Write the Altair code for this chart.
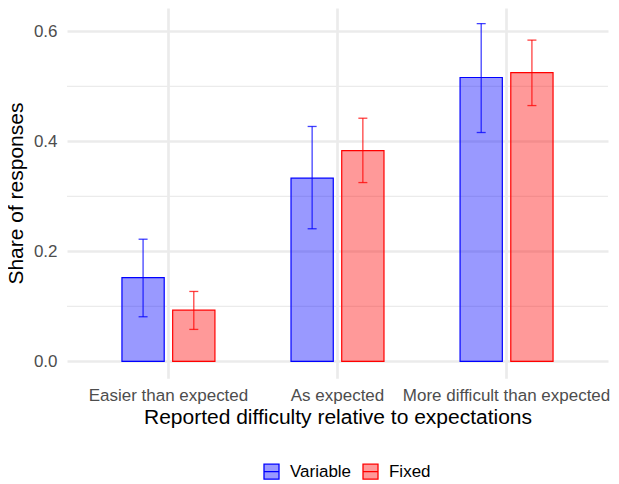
import altair as alt
import pandas as pd

categories = ["Easier than expected", "As expected", "More difficult than expected"]
groups = ["Variable", "Fixed"]

variable_share = [0.152, 0.333, 0.516]
variable_lo = [0.081, 0.241, 0.416]
variable_hi = [0.222, 0.427, 0.614]

fixed_share = [0.093, 0.383, 0.525]
fixed_lo = [0.058, 0.325, 0.465]
fixed_hi = [0.127, 0.442, 0.584]

major_ticks = [0.0, 0.2, 0.4, 0.6]
minor_grid = [0.1, 0.3, 0.5]

rows = []
for i, c in enumerate(categories):
    rows.append(dict(cat=c, grp="Variable", share=variable_share[i], lo=variable_lo[i], hi=variable_hi[i]))
    rows.append(dict(cat=c, grp="Fixed", share=fixed_share[i], lo=fixed_lo[i], hi=fixed_hi[i]))
df = pd.DataFrame(rows)
grid_df = pd.DataFrame({"share": minor_grid})

FONT = "Liberation Sans"
GRID = "#EBEBEB"

x_enc = alt.X(
    "cat:N",
    sort=categories,
    scale=alt.Scale(paddingInner=0, paddingOuter=0.1),
    axis=alt.Axis(
        title="Reported difficulty relative to expectations",
        labelAngle=0, ticks=False, tickSize=0, domain=False, grid=True, bandPosition=0.5,
        gridColor=GRID, gridWidth=2.67, labelLimit=0,
        labelPadding=9, labelFontSize=17, labelColor="#4D4D4D", labelFont=FONT,
        titleFontSize=21, titleColor="black", titleFont=FONT, titleFontWeight="normal",
        titlePadding=3,
    ),
)
xoff_enc = alt.XOffset("grp:N", sort=groups, scale=alt.Scale(paddingInner=1 / 6, paddingOuter=0.75))

y_scale = alt.Scale(domain=[-0.0307, 0.6424], nice=False, zero=False)
y_axis = alt.Axis(
    values=major_ticks, format=".1f", title="Share of responses",
    ticks=False, tickSize=0, domain=False, grid=True, gridColor=GRID, gridWidth=2.67,
    labelPadding=10, labelFontSize=17, labelColor="#4D4D4D", labelFont=FONT,
    titleFontSize=21, titleColor="black", titleFont=FONT, titleFontWeight="normal",
    titlePadding=7,
)

fill_enc = alt.Fill(
    "grp:N", sort=groups,
    scale=alt.Scale(domain=groups, range=["rgba(0,0,255,0.4)", "rgba(255,0,0,0.4)"]),
    legend=alt.Legend(title=None),
)
stroke_enc = alt.Stroke(
    "grp:N", sort=groups,
    scale=alt.Scale(domain=groups, range=["#0000FF", "#FF0000"]),
    legend=alt.Legend(title=None),
)

minor = alt.Chart(grid_df).mark_rule(color=GRID, strokeWidth=1.33).encode(
    y=alt.Y("share:Q", scale=y_scale, axis=y_axis)
)

bars = alt.Chart(df).mark_bar(strokeWidth=1.2).encode(
    x=x_enc,
    xOffset=xoff_enc,
    y=alt.Y("share:Q", scale=y_scale, axis=y_axis),
    y2=alt.datum(0),
    fill=fill_enc,
    stroke=stroke_enc,
)

err = alt.Chart(df).mark_rule(strokeWidth=1.3, opacity=0.75).encode(
    x=x_enc, xOffset=xoff_enc,
    y=alt.Y("lo:Q", scale=y_scale),
    y2="hi:Q",
    stroke=stroke_enc,
)

cap_color = alt.Color("grp:N", sort=groups, scale=alt.Scale(domain=groups, range=["#0000FF", "#FF0000"]), legend=None)
cap_hi = alt.Chart(df).mark_tick(orient="horizontal", size=9, thickness=1.3, opacity=0.75).encode(
    x=x_enc, xOffset=xoff_enc, y=alt.Y("hi:Q", scale=y_scale), color=cap_color,
)
cap_lo = alt.Chart(df).mark_tick(orient="horizontal", size=9, thickness=1.3, opacity=0.75).encode(
    x=x_enc, xOffset=xoff_enc, y=alt.Y("lo:Q", scale=y_scale), color=cap_color,
)

chart = alt.layer(minor, bars, err, cap_hi, cap_lo).properties(
    width=541, height=370.2,
    autosize=alt.AutoSizeParams(type="none"),
    padding={"left": 59, "top": 0, "right": 3, "bottom": 104},
).configure_view(stroke=None).configure_legend(
    orient="none", legendX=196, legendY=455, direction="horizontal",
    symbolType="M-1,-1H1V1H-1Z M-1,0H1", symbolSize=225, symbolStrokeWidth=1.3,
    labelFontSize=17, labelFont=FONT, labelColor="black", labelOffset=10, columnPadding=8,
).configure_text(font=FONT)

chart.save("out.html", embed_options={"renderer": "svg", "actions": False})
